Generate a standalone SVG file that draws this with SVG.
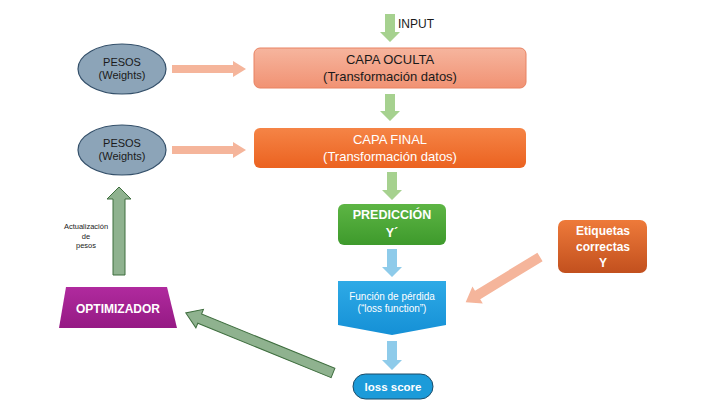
<svg xmlns="http://www.w3.org/2000/svg" width="720" height="405" viewBox="0 0 720 405">
<defs>
<linearGradient id="gOc" x1="0" y1="0" x2="0" y2="1"><stop offset="0" stop-color="#F6B59E"/><stop offset="1" stop-color="#F19273"/></linearGradient>
<linearGradient id="gFin" x1="0" y1="0" x2="0" y2="1"><stop offset="0" stop-color="#F58446"/><stop offset="1" stop-color="#EB6220"/></linearGradient>
<linearGradient id="gPred" x1="0" y1="0" x2="0" y2="1"><stop offset="0" stop-color="#5DB544"/><stop offset="1" stop-color="#3E9A2C"/></linearGradient>
<linearGradient id="gLoss" x1="0" y1="0" x2="0" y2="1"><stop offset="0" stop-color="#2EAAE6"/><stop offset="1" stop-color="#1590D6"/></linearGradient>
<linearGradient id="gEt" x1="0" y1="0" x2="0" y2="1"><stop offset="0" stop-color="#EE7A3A"/><stop offset="1" stop-color="#C2501E"/></linearGradient>
<linearGradient id="gOpt" x1="0" y1="0" x2="0" y2="1"><stop offset="0" stop-color="#B02A9E"/><stop offset="1" stop-color="#951A84"/></linearGradient>
</defs>
<style>
text{font-family:"Liberation Sans",Arial,sans-serif;text-anchor:middle}
.dk{fill:#1a1a1a;font-size:13px}
.wh{fill:#ffffff;font-size:13px}
.b{font-weight:bold}
.ga{fill:#A6D18F}
.ba{fill:#8ECBEA}
.sa{fill:#F5B59B}
.da{fill:#8FB28F;stroke:#3F6E3F;stroke-width:1}
.ell{fill:#8CA4B8;stroke:#34506A;stroke-width:1.2}
.sm{font-size:7.5px;fill:#222}
</style>
<rect width="720" height="405" fill="#ffffff"/>

<g id="connectors">
<polygon class="ga" points="385,14 395,14 395,32 400,32 390,42 380,32 385,32"/>
<polygon class="ga" points="385,94 395,94 395,111 400,111 390,121 380,111 385,111"/>
<polygon class="ga" points="387,172 397,172 397,190 402,190 392,200 382,190 387,190"/>
<polygon class="ba" points="387,249 397,249 397,267 402,267 392,277 382,267 387,267"/>
<polygon class="ba" points="387,341 397,341 397,360 402,360 392,370 382,360 387,360"/>
<polygon class="sa" points="172,65 233,65 233,61 246,69 233,77 233,73 172,73"/>
<polygon class="sa" points="172,146 233,146 233,142 246,150 233,158 233,154 172,154"/>
<polygon class="sa" transform="translate(540,257) rotate(148.7)" points="0,-5 73,-5 73,-10 87,0 73,10 73,5 0,5"/>
<polygon class="da" points="113,275 125,275 125,199 131,199 119,187 107,199 113,199"/>
<polygon class="da" transform="translate(333,373) rotate(202.2)" points="0,-5 144,-5 144,-10 159,0 144,10 144,5 0,5"/>
<text x="86" y="229" class="sm">Actualización</text>
<text x="86" y="239" class="sm">de</text>
<text x="86" y="248" class="sm">pesos</text>
</g>

<g id="input-label"><text x="398" y="28" class="dk" style="text-anchor:start;font-size:12px">INPUT</text></g>

<g id="capa-oculta">
<rect x="254" y="48" width="272" height="40" rx="6" fill="url(#gOc)" stroke="#E88262" stroke-width="1"/>
<text x="390" y="64" class="dk">CAPA OCULTA</text>
<text x="390" y="81" class="dk">(Transformación datos)</text>
</g>

<g id="capa-final">
<rect x="254" y="128" width="272" height="40" rx="6" fill="url(#gFin)"/>
<text x="390" y="144" class="wh">CAPA FINAL</text>
<text x="390" y="161" class="wh">(Transformación datos)</text>
</g>

<g id="prediccion">
<rect x="338" y="204" width="108" height="41" rx="6" fill="url(#gPred)"/>
<text x="392" y="219" class="wh b" style="font-size:12.5px">PREDICCIÓN</text>
<text x="392" y="237" class="wh b" style="font-size:12.5px">Y´</text>
</g>

<g id="funcion-perdida">
<polygon points="338,281 446,281 446,325 392,335 338,325" fill="url(#gLoss)"/>
<text x="392" y="300" class="wh" style="font-size:10px">Función de pérdida</text>
<text x="392" y="312" class="wh" style="font-size:10px">(“loss function”)</text>
</g>

<g id="loss-score">
<rect x="353" y="374" width="80" height="25" rx="12.5" fill="#1C9BD9" stroke="#1B4A66" stroke-width="1"/>
<text x="393" y="391" class="wh b" style="font-size:11.5px">loss score</text>
</g>

<g id="etiquetas">
<rect x="558" y="220" width="89" height="53" rx="7" fill="url(#gEt)"/>
<text x="603" y="235" class="wh b" style="font-size:12px">Etiquetas</text>
<text x="603" y="251" class="wh b" style="font-size:12px">correctas</text>
<text x="603" y="267" class="wh b" style="font-size:12px">Y</text>
</g>

<g id="pesos-1">
<ellipse cx="122" cy="69" rx="44" ry="25" class="ell"/>
<text x="122" y="66" class="dk" style="font-size:11px">PESOS</text>
<text x="122" y="79" class="dk" style="font-size:11px">(Weights)</text>
</g>

<g id="pesos-2">
<ellipse cx="122" cy="150" rx="44" ry="25" class="ell"/>
<text x="122" y="147" class="dk" style="font-size:11px">PESOS</text>
<text x="122" y="160" class="dk" style="font-size:11px">(Weights)</text>
</g>

<g id="optimizador">
<polygon points="66,287 167,287 177,328 59,328" fill="url(#gOpt)"/>
<text x="118" y="313" class="wh b" style="font-size:12px">OPTIMIZADOR</text>
</g>
</svg>
